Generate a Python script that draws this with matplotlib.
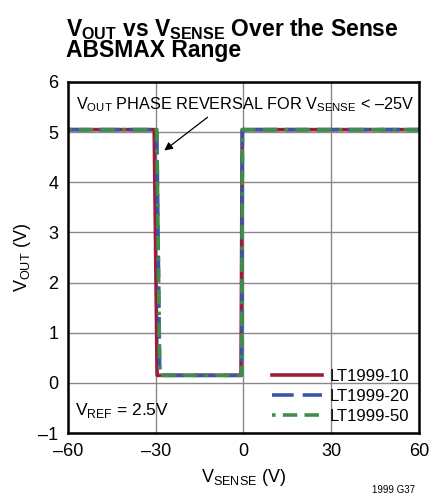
import matplotlib.pyplot as plt

# data
x10 = [-60, -30.5, -29.5, -0.8, -0.4, 60]
y10 = [5.05, 5.05, 0.15, 0.15, 5.05, 5.05]
x20 = [-60, -29.6, -28.6, -0.6, -0.3, 60]
y20 = [5.05, 5.05, 0.15, 0.15, 5.05, 5.05]
x50 = [-60, -29.6, -28.6, -0.6, -0.3, 60]
y50 = [5.05, 5.05, 0.15, 0.15, 5.05, 5.05]
labels = ['LT1999-10', 'LT1999-20', 'LT1999-50']
xticks = [-60, -30, 0, 30, 60]
yticks = [-1, 0, 1, 2, 3, 4, 5, 6]

fam = 'Liberation Sans'
plt.rcParams['font.family'] = [fam, 'DejaVu Sans']
plt.rcParams['mathtext.fontset'] = 'custom'
plt.rcParams['mathtext.rm'] = fam
plt.rcParams['mathtext.bf'] = fam + ':bold'

fig = plt.figure(figsize=(4.3, 5), dpi=100)
ax = fig.add_axes([0.158, 0.134, 0.816, 0.702])

ax.plot(x10, y10, color='#9c1c3c', lw=2.6, label=labels[0])
ax.plot(x20, y20, color='#3d55a8', lw=2.6, dashes=(6, 2.5), label=labels[1])
ax.plot(x50, y50, color='#3f8f4c', lw=2.6, dashes=(1, 2, 4, 2, 4, 2), label=labels[2])

ax.set_xlim(-60, 60)
ax.set_ylim(-1, 6)
ax.set_xticks(xticks)
ax.set_yticks(yticks)
ax.set_xticklabels(['\u201360', '\u201330', '0', '30', '60'])
ax.set_yticklabels(['\u20131', '0', '1', '2', '3', '4', '5', '6'])
ax.tick_params(labelsize=13, length=0, pad=7)
ax.grid(color='#888888', lw=1)
for s in ax.spines.values():
    s.set_linewidth(1.8)

ax.set_xlabel('V$_{\\mathrm{SENSE}}$ (V)', fontsize=13, labelpad=5)
ax.set_ylabel('V$_{\\mathrm{OUT}}$ (V)', fontsize=13, labelpad=4)

ax.text(0.5, 5.55, 'V$_{\\mathrm{OUT}}$ PHASE REVERSAL FOR V$_{\\mathrm{SENSE}}$ < \u201325V',
        ha='center', va='center', fontsize=11.7)
ax.annotate('', xy=(-27.8, 4.6), xytext=(-11.5, 5.33),
            arrowprops=dict(arrowstyle='-|>', color='black', lw=0.9, mutation_scale=12))
ax.text(-57.5, -0.55, 'V$_{\\mathrm{REF}}$ = 2.5V', ha='left', va='center', fontsize=12.5)

ax.legend(loc='lower right', frameon=False, fontsize=12, handlelength=3.0,
          handletextpad=0.5, labelspacing=0.3, borderaxespad=0.15)

fig.text(0.153, 0.876, 'V$_{\\mathbf{OUT}}$ vs V$_{\\mathbf{SENSE}}$ Over the Sense\nABSMAX Range',
         fontsize=16.5, fontweight='bold', ha='left', va='bottom', linespacing=0.85)
fig.text(0.965, 0.01, '1999 G37', fontsize=7, ha='right', va='bottom')

fig.savefig('out.png', dpi=100)
